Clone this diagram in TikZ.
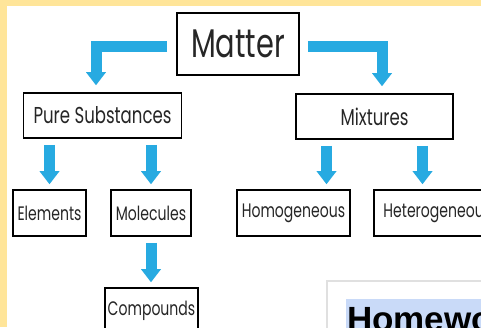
\documentclass[tikz,border=0pt]{standalone}
\usepackage{fontspec}
\setmainfont{Poppins}[FakeStretch=0.72]
\newfontfamily\hwfont{Liberation Sans}
\usepackage{xcolor}
\usepackage{tikz}
\usetikzlibrary{arrows.meta,positioning}
\definecolor{framebg}{RGB}{255,229,153}
\definecolor{flowblue}{RGB}{39,170,225}
\definecolor{hwblue}{RGB}{201,218,248}

\begin{document}
\begin{tikzpicture}[x=1pt, y=-1pt,
    box/.style = {shape=rectangle, draw, line width=1.6pt, inner sep=0pt, text=black!85},
    topbox/.style = {box, minimum width=122pt, minimum height=62pt, font=\fontsize{40}{40}\selectfont},
    midbox/.style = {box, minimum width=158pt, minimum height=45pt, font=\fontsize{23}{23}\selectfont},
    lowbox/.style = {box, minimum height=46pt, font=\fontsize{19.5}{19.5}\selectfont},
    flow/.style = {draw=flowblue, line width=11pt, line join=miter,
      -{Triangle[width=20pt, length=13pt, line width=0pt]}, shorten <=6pt, shorten >=5pt}]
    \useasboundingbox (0,0) rectangle (481,327);
    \clip (0,0) rectangle (481,327);
    \fill[framebg] (0,0) rectangle (481,327);
    \fill[white] (7,6) rectangle (490,340);

    \node[topbox] (matter) at (238,44) {Matter};
    \node[midbox] (pure) at (102.5,115.5) {Pure Substances};
    \node[midbox, minimum width=157pt] (mix) at (374.5,116.5) {Mixtures};
    \node[lowbox, minimum width=73pt] (elem) at (49.5,213) {Elements};
    \node[lowbox, minimum width=80pt] (mol) at (151,213) {Molecules};
    \node[lowbox, minimum width=113pt] (homo) at (293.5,213) {Homogeneous};
    \node[lowbox, minimum width=127pt, anchor=west] (hetero) at (373,213) {Heterogeneous};
    \node[lowbox, minimum width=93pt] (comp) at (151.5,311) {Compounds};

    \draw[flow, shorten <=9pt, shorten >=7pt] ([yshift=-2pt]matter.west) -| ([xshift=-6.5pt]pure.north);
    \draw[flow, shorten <=8pt, shorten >=7pt] ([yshift=-2pt]matter.east) -| ([xshift=7.5pt]mix.north);
    \draw[flow] (pure.south -| elem.north) -- (elem.north);
    \draw[flow] (pure.south -| mol.north) -- (mol.north);
    \draw[flow] ([xshift=-48pt]mix.south) -- ([xshift=-48pt]mix.south |- homo.north);
    \draw[flow] ([xshift=48pt]mix.south) -- ([xshift=48pt]mix.south |- hetero.north);
    \draw[flow] (mol.south) -- (mol.south |- comp.north);

    \draw[black!12, line width=2pt, fill=white] (327,281) rectangle (500,340);
    \node[anchor=north west, fill=hwblue, inner xsep=1pt, inner ysep=7pt, text height=25pt,
      font=\hwfont\bfseries\fontsize{35}{35}\selectfont] (hw) at (346,299) {Homework};
\end{tikzpicture}
\end{document}
